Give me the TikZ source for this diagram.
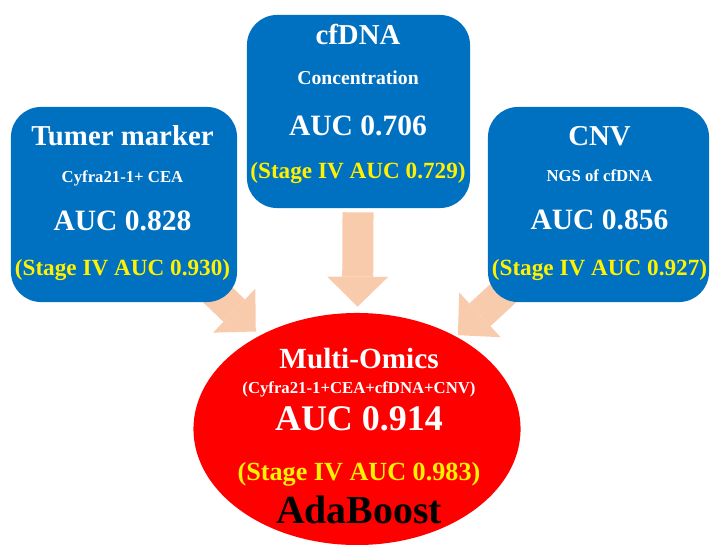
\documentclass[tikz,border=0pt]{standalone}
\usepackage{fontspec}
\setmainfont{Liberation Serif}
\usepackage{tikz}
\usetikzlibrary{arrows.meta,backgrounds,shapes.geometric}
\pgfdeclarelayer{background}
\pgfsetlayers{background,main}

\definecolor{boxblue}{RGB}{0,112,192}
\definecolor{peach}{RGB}{248,203,173}
\definecolor{omicsred}{RGB}{255,0,0}

\newcommand{\fsz}[1]{\bfseries\fontsize{#1}{#1}\selectfont}

\begin{document}
\begin{tikzpicture}[x=0.025cm, y=-0.025cm,
    box/.style={rectangle, rounded corners=0.75cm, fill=boxblue, inner sep=0pt},
    head/.style={anchor=base, text=white, font=\fsz{20.5}},
    sub/.style={anchor=base, text=white, font=\fsz{11.9}},
    auc/.style={anchor=base, text=white, font=\fsz{21}},
    stage/.style={anchor=base, text=yellow, font=\fsz{16.5}},
    flow/.style={line width=0.775cm, peach, -{Triangle[length=0.75cm, width=1.525cm, line width=0pt]}}]

    \useasboundingbox (0,0) rectangle (710,545);

    % three single markers
    \node[box, minimum width=5.65cm, minimum height=4.875cm] (tm) at (124,204.5) {};
    \node[box, minimum width=5.575cm, minimum height=4.825cm] (cf) at (358.5,111.5) {};
    \node[box, minimum width=5.525cm, minimum height=4.875cm] (cnv) at (598.5,204.5) {};

    \node[head] (tm1) at (122.5,145) {Tumer marker};
    \node[sub] (tm2) at (122.5,182) {Cyfra21-1+ CEA};
    \node[auc] (tm3) at (122.5,230) {AUC 0.828};
    \node[stage] (tm4) at (122.5,275) {(Stage IV AUC 0.930)};

    \node[head] (cf1) at (358,45) {cfDNA};
    \node[sub, font=\fsz{14}] (cf2) at (358,85) {Concentration};
    \node[auc] (cf3) at (358,135) {AUC 0.706};
    \node[stage] (cf4) at (358,178) {(Stage IV AUC 0.729)};

    \node[head] (cnv1) at (599.5,145) {CNV};
    \node[sub] (cnv2) at (599.5,181) {NGS of cfDNA};
    \node[auc] (cnv3) at (599.5,229) {AUC 0.856};
    \node[stage] (cnv4) at (599.5,275) {(Stage IV AUC 0.927)};

    % combined model
    \node[ellipse, fill=omicsred, inner sep=0pt, minimum width=8.175cm, minimum height=5.8cm] (mo) at (357,429) {};

    \node[head, font=\fsz{20.8}] (mo1) at (359,368) {Multi-Omics};
    \node[sub] (mo2) at (359,393) {(Cyfra21-1+CEA+cfDNA+CNV)};
    \node[auc, font=\fsz{25.6}] (mo3) at (359,430) {AUC 0.914};
    \node[stage, font=\fsz{18.6}] (mo4) at (359,480) {(Stage IV AUC 0.983)};
    \node[anchor=base, font=\fsz{28.3}] (mo5) at (359,523) {AdaBoost};

    \begin{pgfonlayer}{background}
        \draw[flow, shorten <=-0.5cm, shorten >=0.14cm] (tm) -- (mo);
        \draw[flow, shorten <=0.1cm, shorten >=0.15cm] (cf) -- (mo);
        \draw[flow, shorten <=-0.5cm, shorten >=0.05cm] (cnv) -- (mo);
    \end{pgfonlayer}

\end{tikzpicture}
\end{document}
